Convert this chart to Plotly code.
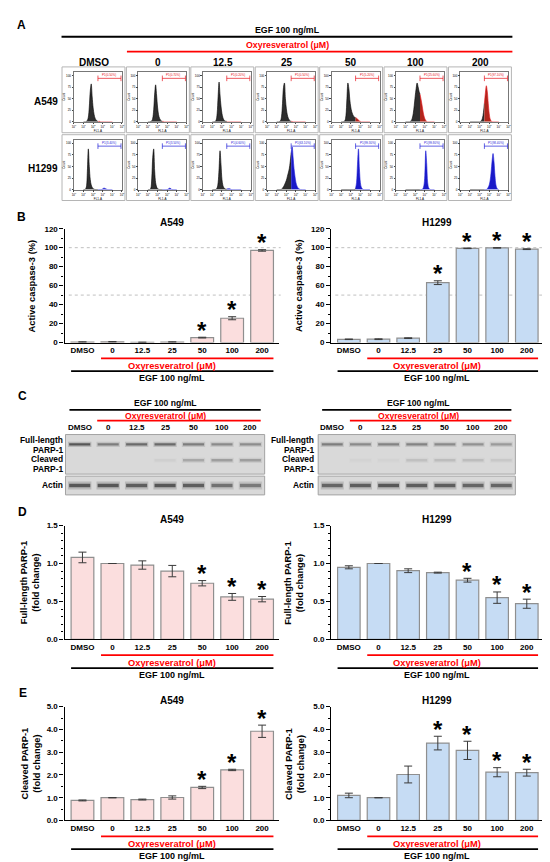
import plotly.graph_objects as go

W, H = 550, 862
FONT = "Liberation Sans, Arial, sans-serif"

doses = ["DMSO", "0", "12.5", "25", "50", "100", "200"]

# B: active caspase-3 (%)
casp_a549 = [0.5, 0.7, 0.2, 0.5, 5.2, 25.6, 97.1]
casp_a549_err = [0.2, 0.3, 0.1, 0.2, 0.4, 1.6, 0.8]
casp_a549_sig = [0, 0, 0, 0, 1, 1, 1]
casp_h1299 = [3.4, 3.5, 4.6, 63.1, 99.3, 99.8, 98.4]
casp_h1299_err = [0.3, 0.4, 0.4, 2.0, 0.3, 0.2, 0.4]
casp_h1299_sig = [0, 0, 0, 1, 1, 1, 1]

# D: full-length PARP-1 (fold change)
full_a549 = [1.08, 1.00, 0.98, 0.90, 0.74, 0.56, 0.53]
full_a549_err = [0.07, 0.0, 0.055, 0.075, 0.035, 0.045, 0.035]
full_a549_sig = [0, 0, 0, 0, 1, 1, 1]
full_h1299 = [0.95, 1.00, 0.905, 0.88, 0.78, 0.55, 0.47]
full_h1299_err = [0.02, 0.0, 0.025, 0.006, 0.025, 0.075, 0.06]
full_h1299_sig = [0, 0, 0, 0, 1, 1, 1]

# E: cleaved PARP-1 (fold change)
clv_a549 = [0.88, 1.00, 0.92, 1.01, 1.45, 2.22, 3.92]
clv_a549_err = [0.02, 0.0, 0.02, 0.07, 0.05, 0.03, 0.27]
clv_a549_sig = [0, 0, 0, 0, 1, 1, 1]
clv_h1299 = [1.10, 1.00, 2.02, 3.40, 3.08, 2.12, 2.10]
clv_h1299_err = [0.10, 0.0, 0.37, 0.30, 0.40, 0.20, 0.15]
clv_h1299_sig = [0, 0, 0, 1, 1, 1, 1]

# A: flow cytometry histograms, counts per log10 FL bin
fl_log = [1.0, 1.1, 1.2, 1.3, 1.4, 1.5, 1.6, 1.7, 1.8, 1.9, 2.0, 2.1, 2.2, 2.3, 2.4, 2.5,
          2.6, 2.7, 2.8, 2.9, 3.0, 3.1, 3.2, 3.3, 3.4, 3.5, 3.6, 3.7, 3.8, 3.9, 4.0]
gate_idx = 15
hist_a549 = [
    [0, 0, 0, 1, 3, 10, 32, 66, 82, 54, 30, 16, 8, 4, 2, 1, 1, 1, 0, 0, 0, 0, 0, 0, 0, 0, 0, 0, 0, 0, 0],
    [0, 0, 0, 1, 2, 8, 26, 60, 80, 58, 32, 16, 8, 4, 2, 1, 1, 0, 0, 0, 0, 0, 0, 0, 0, 0, 0, 0, 0, 0, 0],
    [0, 0, 0, 1, 4, 18, 55, 86, 58, 34, 18, 9, 4, 2, 1, 1, 0, 0, 0, 0, 0, 0, 0, 0, 0, 0, 0, 0, 0, 0, 0],
    [0, 0, 0, 1, 3, 12, 40, 74, 84, 50, 28, 15, 8, 4, 2, 1, 1, 0, 0, 0, 0, 0, 0, 0, 0, 0, 0, 0, 0, 0, 0],
    [0, 0, 0, 1, 3, 14, 50, 84, 72, 48, 32, 22, 16, 12, 10, 9, 8, 6, 4, 2, 1, 0, 0, 0, 0, 0, 0, 0, 0, 0, 0],
    [0, 0, 0, 0, 0, 1, 3, 8, 18, 35, 55, 72, 84, 76, 66, 60, 50, 38, 25, 14, 7, 3, 1, 0, 0, 0, 0, 0, 0, 0, 0],
    [0, 0, 0, 0, 0, 0, 0, 0, 0, 0, 0, 1, 3, 8, 20, 40, 62, 78, 66, 40, 18, 6, 2, 0, 0, 0, 0, 0, 0, 0, 0],
]
hist_h1299 = [
    [0, 0, 1, 6, 40, 88, 50, 22, 10, 5, 2, 1, 0, 0, 0, 0, 0, 0, 0, 0, 2, 3, 3, 2, 1, 0, 0, 0, 0, 0, 0],
    [0, 0, 0, 3, 25, 70, 88, 40, 15, 6, 2, 1, 0, 0, 0, 0, 0, 0, 0, 0, 0, 1, 3, 3, 2, 0, 0, 0, 0, 0, 0],
    [0, 0, 0, 0, 1, 4, 15, 45, 84, 55, 22, 9, 4, 2, 1, 1, 2, 2, 2, 1, 0, 0, 0, 0, 0, 0, 0, 0, 0, 0, 0],
    [0, 0, 0, 0, 0, 1, 3, 6, 10, 15, 20, 28, 36, 45, 60, 80, 92, 70, 45, 28, 15, 8, 4, 2, 1, 0, 0, 0, 0, 0, 0],
    [0, 0, 0, 0, 0, 0, 0, 0, 0, 0, 0, 0, 0, 0, 0, 3, 15, 55, 88, 45, 15, 5, 2, 0, 0, 0, 0, 0, 0, 0, 0],
    [0, 0, 0, 0, 0, 0, 0, 0, 0, 0, 0, 0, 0, 0, 0, 0, 0, 0, 2, 8, 30, 84, 55, 15, 4, 1, 0, 0, 0, 0, 0],
    [0, 0, 0, 0, 0, 0, 0, 0, 0, 0, 0, 0, 0, 0, 0, 0, 0, 0, 2, 5, 10, 20, 38, 62, 78, 60, 30, 10, 3, 1, 0],
]

# C: western blot band intensities (0-1)
wb_full_a549 = [0.75, 0.50, 0.62, 0.62, 0.50, 0.42, 0.40]
wb_clv_a549 = [0.0, 0.0, 0.0, 0.05, 0.25, 0.30, 0.30]
wb_actin_a549 = [0.75, 0.75, 0.70, 0.75, 0.70, 0.58, 0.52]
wb_full_h1299 = [0.50, 0.42, 0.46, 0.46, 0.42, 0.38, 0.32]
wb_clv_h1299 = [0.0, 0.02, 0.02, 0.12, 0.14, 0.14, 0.08]
wb_actin_h1299 = [0.65, 0.70, 0.75, 0.70, 0.70, 0.65, 0.65]

PINK = "#fbdede"
BLUE = "#c6dcf4"


def px(x):
    return x / W


def py(y):
    return 1 - y / H


fig = go.Figure()
axes = {}
annots = []
shapes = []
n_ax = [0]


def new_axes(x0, x1, y0, y1, xa, ya):
    n_ax[0] += 1
    s = "" if n_ax[0] == 1 else str(n_ax[0])
    axes["xaxis" + s] = dict(domain=[px(x0), px(x1)], anchor="y" + s, **xa)
    axes["yaxis" + s] = dict(domain=[py(y1), py(y0)], anchor="x" + s, **ya)
    return "x" + s, "y" + s


def text(t, x, y, size, color="black", xanchor="center", angle=0, align="center"):
    annots.append(dict(text="<b>%s</b>" % t, x=px(x), y=py(y), xref="paper", yref="paper",
                       showarrow=False, xanchor=xanchor, yanchor="middle", textangle=angle,
                       align=align, font=dict(size=size, color=color, family=FONT)))


def hline(x0, x1, y, color="black", width=1.8):
    shapes.append(dict(type="line", xref="paper", yref="paper", x0=px(x0), x1=px(x1),
                       y0=py(y), y1=py(y), line=dict(color=color, width=width)))


def box(x0, x1, y0, y1, fill="rgba(0,0,0,0)", line="#b5b5b5"):
    shapes.append(dict(type="rect", xref="paper", yref="paper", x0=px(x0), x1=px(x1),
                       y0=py(y1), y1=py(y0), fillcolor=fill, layer="below",
                       line=dict(color=line, width=1)))


def treatment_labels(cx, y_red, red_x0, red_x1, y_blk, blk_x0, blk_x1, xref="paper"):
    # red oxyresveratrol bar + black EGF bar under the bar charts
    for (a, b, y, col) in [(red_x0, red_x1, y_red, "#ff0000"), (blk_x0, blk_x1, y_blk, "black")]:
        shapes.append(dict(type="line", xref=xref, yref="paper", x0=a, x1=b, y0=py(y), y1=py(y),
                           line=dict(color=col, width=1.8)))
    text("Oxyresveratrol (\u03bcM)", cx, y_red + 7.5, 9.3, color="#ff0000")
    text("EGF 100 ng/mL", cx, y_blk + 6.5, 9)


# ---------------- Panel A ----------------
text("A", 12, 13, 12)
text("EGF 100 ng/mL", 280, 18.5, 8.8)
hline(52, 507, 25)
text("Oxyresveratrol (\u03bcM)", 280, 33.5, 8.8, color="#ff0000")
hline(118, 507, 40, color="#ff0000")


def hist_cell(x0, y0, counts, pct, color, fill):
    x1, y1 = x0 + 63.5, y0 + 66.5
    box(x0, x1, y0, y1)
    xa = dict(range=[0, 5], tickvals=[0, 1, 2, 3, 4, 5],
              ticktext=["10<sup>%d</sup>" % v for v in [0, 1, 2, 3, 4, 5]],
              tickfont=dict(size=3, family=FONT), showline=True, mirror=True, linecolor="#777",
              linewidth=0.6, ticks="outside", ticklen=1.5, tickwidth=0.5, showgrid=False,
              zeroline=False, title=dict(text="FL1-A", font=dict(size=3, family=FONT), standoff=0))
    ya = dict(range=[0, 108], tickvals=[0, 25, 50, 75, 100],
              ticktext=["0", "25", "50", "75", "100"], tickfont=dict(size=3, family=FONT),
              showline=True, mirror=True, linecolor="#777", linewidth=0.6, ticks="outside",
              ticklen=1.5, tickwidth=0.5, showgrid=False, zeroline=False,
              title=dict(text="Count", font=dict(size=3, family=FONT), standoff=0))
    xr, yr = new_axes(x0 + 12, x1 - 3, y0 + 5, y1 - 11, xa, ya)
    g = gate_idx
    fig.add_trace(go.Scatter(x=fl_log[:g + 1], y=counts[:g + 1], mode="lines", fill="tozeroy",
                             fillcolor="#2e2e2e", line=dict(color="black", width=0.6, shape="spline"),
                             xaxis=xr, yaxis=yr))
    fig.add_trace(go.Scatter(x=fl_log[g:], y=counts[g:], mode="lines", fill="tozeroy",
                             fillcolor=fill, line=dict(color=color, width=0.6, shape="spline"),
                             xaxis=xr, yaxis=yr))
    fig.add_trace(go.Scatter(x=[fl_log[g], 4.9], y=[94, 94], mode="lines+markers",
                             line=dict(color=color, width=0.7),
                             marker=dict(symbol="line-ns-open", size=4, line=dict(color=color, width=0.7)),
                             xaxis=xr, yaxis=yr))
    annots.append(dict(text="P1(%.2f%%)" % pct, x=fl_log[g] + 0.2, y=101, xref=xr, yref=yr,
                       showarrow=False, xanchor="left", yanchor="middle",
                       font=dict(size=3, color=color, family=FONT)))


for c, d in enumerate(doses):
    cx0 = 52.5 + 65 * c
    text(d, cx0 + 32, 51, 10)
    hist_cell(cx0, 55.5, hist_a549[c], casp_a549[c], "#e8141c", "#b0261c")
    hist_cell(cx0, 124, hist_h1299[c], casp_h1299[c], "#1f1fd8", "#1a1ac8")
text("A549", 50, 90, 10, xanchor="right")
text("H1299", 50, 158, 10, xanchor="right")


# ---------------- Bar charts (B, D, E) ----------------
def bar_panel(x0, x1, y0, y1, vals, errs, sig, ymax, dtick, minor, fmt, fill, title, ytitle, ytx,
              dotted=False):
    idx = list(range(len(vals)))
    tf = dict(size=8, family=FONT, color="black", weight="bold")
    xa = dict(range=[-0.6, 6.55], tickvals=idx, ticktext=doses, showline=True, linecolor="black",
              linewidth=1.2, ticks="", tickfont=tf, showgrid=False, zeroline=False)
    ya = dict(range=[0, ymax], dtick=dtick, tickformat=fmt, showline=True, linecolor="black",
              linewidth=1.2, ticks="outside", ticklen=4, tickwidth=1.2, tickcolor="black",
              minor=dict(ticks="outside", ticklen=2, dtick=minor, tickcolor="black", tickwidth=1),
              tickfont=tf, showgrid=False, zeroline=False)
    xr, yr = new_axes(x0, x1, y0, y1, xa, ya)
    if dotted:
        for v in [50, 100]:
            shapes.append(dict(type="line", xref=xr + " domain", yref=yr, x0=0.02, x1=1.01, y0=v, y1=v,
                               layer="below", line=dict(color="#b0b0b0", width=0.8, dash="dot")))
    fig.add_trace(go.Bar(x=idx, y=vals, width=0.76,
                         marker=dict(color=fill, line=dict(color="#8f8f8f", width=1.2)),
                         error_y=dict(type="data", array=errs, color="#3a3a3a", thickness=1, width=4),
                         xaxis=xr, yaxis=yr))
    for i in idx:
        if sig[i]:
            annots.append(dict(text="<b>*</b>", x=i, y=vals[i] + errs[i], xref=xr, yref=yr,
                               showarrow=False, yanchor="middle", yshift=7,
                               font=dict(size=24, family=FONT, color="black")))
    cx = (x0 + x1) / 2
    text(title, cx, y0 - 6.5, 10)
    text(ytitle, ytx, (y0 + y1) / 2, 9.3, angle=-90)
    treatment_labels(cx, y1 + 16, 0.62, 6.38, y1 + 29, -0.38, 6.38, xref=xr)


LX0, LX1, RX0, RX1 = 55, 271, 324, 538

text("B", 12, 207, 12)
bar_panel(LX0, LX1, 219, 334, casp_a549, casp_a549_err, casp_a549_sig, 120, 20, 10, "d", PINK,
          "A549", "Active caspase-3 (%)", 22, dotted=True)
bar_panel(RX0, RX1, 219, 334, casp_h1299, casp_h1299_err, casp_h1299_sig, 120, 20, 10, "d", BLUE,
          "H1299", "Active caspase-3 (%)", 291, dotted=True)

text("D", 13, 505, 12)
bar_panel(LX0, LX1, 519, 634, full_a549, full_a549_err, full_a549_sig, 1.5, 0.5, 0.1, ".1f", PINK,
          "A549", "Full-length PARP-1<br>(fold change)", 21)
bar_panel(RX0, RX1, 519, 634, full_h1299, full_h1299_err, full_h1299_sig, 1.5, 0.5, 0.1, ".1f", BLUE,
          "H1299", "Full-length PARP-1<br>(fold change)", 287)

text("E", 13, 688, 12)
bar_panel(LX0, LX1, 702, 817, clv_a549, clv_a549_err, clv_a549_sig, 5.0, 1.0, 0.5, ".1f", PINK,
          "A549", "Cleaved PARP-1<br>(fold change)", 21)
bar_panel(RX0, RX1, 702, 817, clv_h1299, clv_h1299_err, clv_h1299_sig, 5.0, 1.0, 0.5, ".1f", BLUE,
          "H1299", "Cleaved PARP-1<br>(fold change)", 287)


# ---------------- Panel C: western blots ----------------
def bands(xr, yr, inten, centre, thick):
    idx = list(range(len(inten)))
    fig.add_trace(go.Bar(x=idx, y=[thick * 2.2] * len(idx), base=[centre - thick * 1.1] * len(idx),
                         width=0.82,
                         marker=dict(color=["rgba(70,70,70,%.2f)" % (0.3 * a) for a in inten],
                                     line=dict(width=0)), xaxis=xr, yaxis=yr))
    fig.add_trace(go.Bar(x=idx, y=[thick] * len(idx), base=[centre - thick / 2] * len(idx), width=0.74,
                         marker=dict(color=["rgba(55,55,55,%.2f)" % a for a in inten],
                                     line=dict(width=0)), xaxis=xr, yaxis=yr))


def blot(x0, x1, full, clv, actin, lab_x, head_cx, red_x0):
    text("EGF 100 ng/mL", head_cx, 395, 8.6)
    hline(x0 + 4, x1 - 4, 402)
    text("Oxyresveratrol (\u03bcM)", head_cx, 408, 8.6, color="#ff0000")
    hline(red_x0, x1 - 4, 413, color="#ff0000")
    box(x0, x1, 427, 467, fill="#d9d9d9", line="#a3a3a3")
    box(x0, x1, 469, 488, fill="#d9d9d9", line="#a3a3a3")
    xa = dict(range=[-0.5, 6.5], visible=False)
    xr, yr = new_axes(x0, x1, 427, 467, xa, dict(range=[0, 40], visible=False))
    for i, d in enumerate(doses):
        annots.append(dict(text="<b>%s</b>" % d, x=i, y=py(420), xref=xr, yref="paper",
                           showarrow=False, yanchor="middle",
                           font=dict(size=8, family=FONT, color="black")))
    bands(xr, yr, full, 30, 2.4)
    bands(xr, yr, clv, 14, 2.4)
    xr2, yr2 = new_axes(x0, x1, 469, 488, dict(range=[-0.5, 6.5], visible=False),
                        dict(range=[0, 19], visible=False))
    bands(xr2, yr2, actin, 9.5, 3.6)
    for t, y in [("Full-length", 433), ("PARP-1", 442.5), ("Cleaved", 452), ("PARP-1", 461.5),
                 ("Actin", 478)]:
        text(t, lab_x, y, 8.4, xanchor="right")


text("C", 13, 388, 12)
blot(56, 257, wb_full_a549, wb_clv_a549, wb_actin_a549, 55, 157, 88)
blot(311, 510, wb_full_h1299, wb_clv_h1299, wb_actin_h1299, 309, 412, 343)

fig.update_layout(**axes)
fig.update_layout(
    width=W, height=H,
    margin=dict(l=0, r=0, t=0, b=0),
    paper_bgcolor="white",
    plot_bgcolor="rgba(0,0,0,0)",
    showlegend=False,
    barmode="overlay",
    annotations=annots,
    shapes=shapes,
    font=dict(family=FONT, color="black"),
)

fig.write_html("out.html")
